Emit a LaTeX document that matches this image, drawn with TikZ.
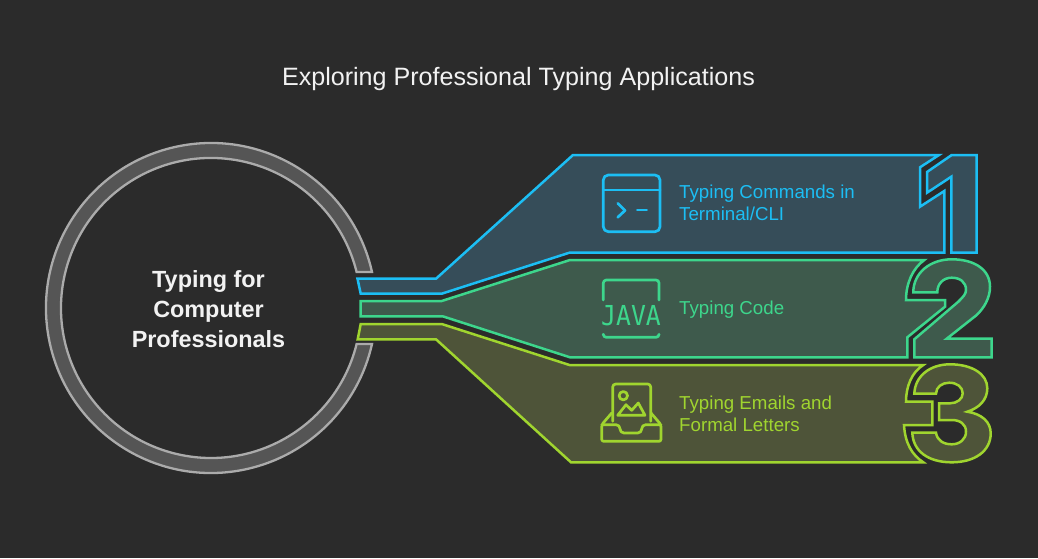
\documentclass[tikz,border=0pt]{standalone}
\usepackage{fontspec}
\setmainfont{Liberation Sans}
\newfontfamily\iconfont{DejaVu Sans Mono}

\definecolor{BackDark}{HTML}{2B2B2B}
\definecolor{RingFill}{HTML}{555555}
\definecolor{RingLine}{HTML}{ABABAB}
\definecolor{TermLine}{HTML}{1CBEF4}
\definecolor{TermFill}{HTML}{364D59}
\definecolor{CodeLine}{HTML}{3DD68C}
\definecolor{CodeFill}{HTML}{3E5A4C}
\definecolor{MailLine}{HTML}{A0D52F}
\definecolor{MailFill}{HTML}{4E5439}

\tikzset{
  band/.style={line width=2.5, miter limit=8},
  icon/.style={line width=2.7, line cap=round, line join=round},
  label/.style={anchor=west, inner sep=0, font=\fontsize{18.7}{22}\selectfont},
}

\begin{document}
\begin{tikzpicture}[x=1pt, y=-1pt]

 %%%%%%%%%% Page %%%%%%%%%%
 \useasboundingbox (0,0) rectangle (1038,558);
 \fill[BackDark] (0,0) rectangle (1038,558);

 % Points for the mouths and the waists of the bands
 \coordinate (t0) at (357.5,278.7);
 \coordinate (t1) at (436,278.7);
 \coordinate (t2) at (573,155);
 \coordinate (t3) at (570,252.5);
 \coordinate (t4) at (441.7,293.7);
 \coordinate (t5) at (360.7,293.7);
 \coordinate (c0) at (360.7,301);
 \coordinate (c1) at (441.7,301);
 \coordinate (c2) at (570,260);
 \coordinate (c3) at (570,357.3);
 \coordinate (c4) at (442.7,316.3);
 \coordinate (c5) at (360.7,316.3);
 \coordinate (m0) at (360.7,324);
 \coordinate (m1) at (441.7,324);
 \coordinate (m2) at (569.5,365);
 \coordinate (m3) at (571,462.3);
 \coordinate (m4) at (436,339.3);
 \coordinate (m5) at (357.7,339.3);

 % Title
 \node[inner sep=0, text=white!95!black, font=\fontsize{25.1}{28}\selectfont] (title) at (518.5,79) {Exploring Professional Typing Applications};

 % Ring
 \filldraw[fill=RingFill, draw=RingLine, line width=2.3] (372,272) arc[start angle=-12.6, end angle=-347.4, radius=165] -- (356.6,344) arc[start angle=13.9, end angle=346.1, radius=150] -- cycle;
 \node[align=center, inner sep=0, text=white!95!black, font=\bfseries\fontsize{23.4}{30}\selectfont] (hub) at (208.5,309) {Typing for\\Computer\\Professionals};

 % Band 1
 \filldraw[band, fill=TermFill, draw=TermLine] (t0) -- (t1) -- (t2) -- (939,155) -- (920,167.3) -- (920,206.7) -- (944.3,191) -- (944.3,252.5) -- (t3) -- (t4) -- (t5) -- cycle;
 \filldraw[band, fill=TermFill, draw=TermLine] (951.7,155) -- (976.7,155) -- (976.7,252.5) -- (951.3,252.5) -- (951.3,176.7) -- (927,192.7) -- (927,172) -- cycle;

 % Band 2
 \filldraw[band, fill=CodeFill, draw=CodeLine] (c0) -- (c1) -- (c2) -- (924.3,260) .. controls (913,268) and (906,283) .. (906,300) -- (945,300) -- (945,306.7) -- (907.3,337.3) -- (907.3,357.3) -- (c3) -- (c4) -- (c5) -- cycle;
 \filldraw[band, fill=CodeFill, draw=CodeLine] (913.3,292.3) .. controls (913.3,273) and (930,259.3) .. (951.7,259.3) .. controls (975,259.3) and (990,270) .. (990,286.7) .. controls (990,298) and (984,308) .. (976.7,315) -- (946.7,338.7) -- (991.7,338.7) -- (991.7,357.3) -- (914.3,357.3) -- (914.3,339.3) -- (958.3,301.7) .. controls (963,297) and (966,294) .. (966,290) .. controls (966,282) and (960,277.7) .. (951.7,277.7) .. controls (943,277.7) and (937.3,284) .. (937.3,292.3) -- cycle;

 % Band 3
 \filldraw[band, fill=MailFill, draw=MailLine] (m0) -- (m1) -- (m2) -- (923.3,365) .. controls (912,372) and (906,386) .. (906,401.7) -- (932.3,401.7) -- (932.3,425) -- (904,425) .. controls (905,443) and (912,455) .. (923.3,462.3) -- (m3) -- (m4) -- (m5) -- cycle;
 \filldraw[band, fill=MailFill, draw=MailLine] (914.3,393.7) .. controls (915,376) and (930,364.3) .. (950,364.3) .. controls (972,364.3) and (987.3,374) .. (987.3,388.3) .. controls (987.3,400) and (979,408) .. (967.3,411.7) .. controls (982,414) and (990.7,422) .. (990.7,433.3) .. controls (990.7,451) and (975,462.3) .. (951.7,462.3) .. controls (928,462.3) and (913,451) .. (912.3,432.7) -- (936,432.7) .. controls (937,440) and (943,444.3) .. (951.7,444.3) .. controls (960,444.3) and (966,439) .. (966,431.7) .. controls (966,424) and (960,420) .. (951.7,420) -- (939,420) -- (939,403.3) -- (950,403.3) .. controls (957,403.3) and (962.7,399) .. (962.7,393.3) .. controls (962.7,387) and (957,382.7) .. (949.3,382.7) .. controls (942,382.7) and (936,387) .. (936,393.7) -- cycle;

 % Icon terminal
 \draw[icon, TermLine, rounded corners=5] (603.3,175) rectangle (660,231.7);
 \draw[icon, TermLine] (603.3,190) -- (660,190);
 \draw[icon, TermLine] (617.7,203.3) -- (625,210.5) -- (617.7,217.3);
 \draw[icon, TermLine] (637.3,210) -- (646.7,210);

 % Icon code
 \draw[icon, CodeLine, rounded corners=3] (603.3,300) -- (603.3,280) -- (659,280) -- (659,300);
 \draw[icon, CodeLine, rounded corners=3] (603.3,335) -- (603.3,337.3) -- (659,337.3) -- (659,335);
 \node[inner sep=0, text=CodeLine, xscale=0.9, font=\iconfont\fontsize{27.5}{28}\selectfont] (java) at (631,316) {JAVA};

 % Icon mail
 \draw[icon, MailLine, rounded corners=3] (612.7,421.3) -- (612.7,384) -- (650.7,384) -- (650.7,421.3);
 \draw[icon, MailLine, rounded corners=2] (611.7,413) -- (601.7,424.7) -- (601.7,441.3) -- (661,441.3) -- (661,424.7) -- (651,413);
 \draw[icon, MailLine, rounded corners=4] (601.7,424.7) -- (620,424.7) -- (620,433) -- (641.7,433) -- (641.7,424.7) -- (661,424.7);
 \draw[icon, MailLine] (623.3,395.7) circle (4.2);
 \draw[icon, MailLine] (617.7,415.3) -- (626,404.7) -- (631.7,410.3) -- (638.3,403) -- (645,415.3) -- cycle;

 % Labels
 \node[label, text=TermLine, align=left] (termlabel) at (679,203) {Typing Commands in\\Terminal/CLI};
 \node[label, text=CodeLine] (codelabel) at (679,310) {Typing Code};
 \node[label, text=MailLine, align=left] (maillabel) at (679,413.5) {Typing Emails and\\Formal Letters};

\end{tikzpicture}
\end{document}
